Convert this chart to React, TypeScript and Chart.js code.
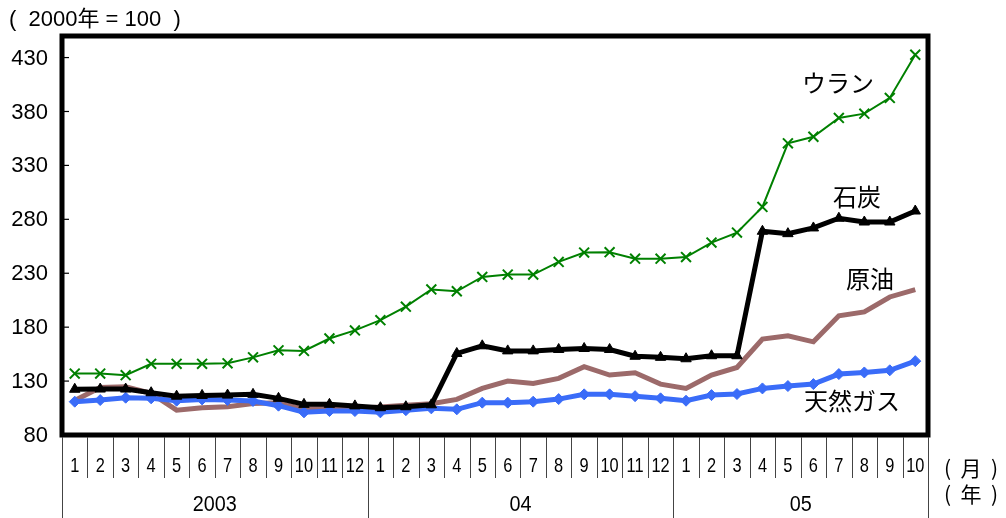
import { useEffect, useRef } from 'react';
import { Chart, registerables } from 'chart.js';

Chart.register(...registerables);

// Monthly index values, 2000 = 100, Jan 2003 – Oct 2005
const months = [
  '1', '2', '3', '4', '5', '6', '7', '8', '9', '10', '11', '12',
  '1', '2', '3', '4', '5', '6', '7', '8', '9', '10', '11', '12',
  '1', '2', '3', '4', '5', '6', '7', '8', '9', '10',
];
const yearLabels = ['2003', '04', '05'];
const monthsPerYear = [12, 12, 10];
const yTicks = [80, 130, 180, 230, 280, 330, 380, 430];

const uranium = [
  137, 137, 135.5, 146, 146, 146, 146.5, 152, 158.5, 158, 169.5, 177,
  186.5, 199, 215, 213.3, 226.6, 228.8, 228.8, 240.5, 249.2, 249.5, 243.5, 243.5,
  245, 258.4, 267.7, 291.5, 350.5, 356.6, 374, 378, 392.6, 432.6,
];
const coal = [
  122.4, 122.6, 122.6, 119.2, 116, 116.7, 117, 117.7, 114, 108.4, 108.4, 107,
  105.3, 106.2, 108, 155.6, 162.7, 158, 158, 159.3, 160.2, 159.3, 153, 152,
  150.7, 153.5, 153.5, 268.9, 266.7, 272, 281, 277.5, 277.5, 287.7,
];
const crude = [
  112, 124, 124.7, 118.6, 103, 105.3, 106.2, 109.3, 110, 104, 104.5, 104.5,
  106, 107.5, 109, 113, 123.2, 130, 127.8, 132.5, 143.3, 135.6, 137.7, 127.2,
  123.2, 135.6, 142.6, 168.9, 172, 166.4, 190.5, 194.2, 208, 214.9,
];
const naturalGas = [
  110.9, 112.4, 114.6, 114, 111.8, 113, 112.4, 111.5, 107.2, 101, 102.2, 102.2,
  101, 103, 104.7, 103.8, 110, 110, 110.9, 113.3, 117.7, 117.7, 116, 114,
  111.8, 117, 118, 123.2, 125.4, 127.2, 136.5, 138, 140, 148.5,
];

const seriesNames = ['ウラン', '石炭', '原油', '天然ガス'];
const unitLabel = '(  2000年 = 100  )';
const monthUnit = '(  月  )';
const yearUnit = '(  年  )';

const SANS = '"Liberation Sans", Arial, "Noto Sans CJK JP", sans-serif';
const JP = '"Noto Sans CJK JP", "Liberation Sans", sans-serif';

// Draws the frame, axis texts, month/year grid below the plot and series names
const decorations = {
  id: 'decorations',
  afterDraw(chart: any) {
    const { ctx, chartArea, scales } = chart;
    const { left, top, right, bottom } = chartArea;
    const x = scales.x;
    const y = scales.y;
    const H = chart.height;
    ctx.save();
    ctx.fillStyle = '#000';
    ctx.strokeStyle = '#000';

    // plot frame
    ctx.lineWidth = 5;
    ctx.strokeRect(left, top, right - left, bottom - top);

    // y ticks (inward) and labels
    ctx.lineWidth = 1.2;
    ctx.font = `22px ${SANS}`;
    ctx.textAlign = 'right';
    ctx.textBaseline = 'middle';
    yTicks.forEach((v) => {
      const py = y.getPixelForValue(v);
      ctx.beginPath();
      ctx.moveTo(left, py);
      ctx.lineTo(left + 7, py);
      ctx.stroke();
      ctx.fillText(String(v), left - 14, py + 1);
    });

    // unit caption
    ctx.textAlign = 'left';
    ctx.font = `22px ${SANS}`;
    ctx.fillText(unitLabel, 9, 20);

    // month separators and year separators
    const half = (x.getPixelForValue(1) - x.getPixelForValue(0)) / 2;
    const yearStarts: number[] = [0];
    monthsPerYear.forEach((n, i) => yearStarts.push(yearStarts[i] + n));
    ctx.strokeStyle = '#444';
    ctx.lineWidth = 1;
    for (let i = 0; i <= months.length; i++) {
      const px = i === months.length
        ? x.getPixelForValue(i - 1) + half
        : x.getPixelForValue(i) - half;
      const isYear = yearStarts.includes(i);
      const xx = Math.round(px) + 0.5;
      ctx.beginPath();
      ctx.moveTo(xx, bottom + 2);
      ctx.lineTo(xx, isYear ? H : bottom + 43);
      ctx.stroke();
    }

    // month labels (condensed)
    ctx.fillStyle = '#000';
    ctx.textAlign = 'center';
    ctx.textBaseline = 'middle';
    ctx.font = `21px ${SANS}`;
    months.forEach((m, i) => {
      const px = x.getPixelForValue(i);
      ctx.save();
      ctx.translate(px, bottom + 31);
      ctx.scale(0.78, 1);
      ctx.fillText(m, 0, 0);
      ctx.restore();
    });

    // year labels
    ctx.font = `22px ${SANS}`;
    yearLabels.forEach((label, i) => {
      const a = x.getPixelForValue(yearStarts[i]);
      const b = x.getPixelForValue(yearStarts[i + 1] - 1);
      ctx.save();
      ctx.translate((a + b) / 2, bottom + 70);
      ctx.scale(0.9, 1);
      ctx.fillText(label, 0, 0);
      ctx.restore();
    });

    // unit labels on the right
    ctx.textAlign = 'left';
    ctx.font = `21px ${JP}`;
    ctx.fillText(monthUnit, 944, bottom + 33);
    ctx.fillText(yearUnit, 944, bottom + 59);

    // series names
    ctx.textAlign = 'center';
    ctx.font = `24px ${JP}`;
    const namePos = [
      [838, 83],
      [857, 197],
      [870, 279],
      [852, 401],
    ];
    seriesNames.forEach((n, i) => ctx.fillText(n, namePos[i][0], namePos[i][1]));

    ctx.restore();
  },
};

export default function App() {
  const canvasRef = useRef<HTMLCanvasElement | null>(null);

  useEffect(() => {
    document.body.style.margin = '0';
    const canvas = canvasRef.current;
    if (!canvas) return;
    const chart = new Chart(canvas, {
      type: 'line',
      data: {
        labels: months.map((m, i) => `${i}-${m}`),
        datasets: [
          {
            label: seriesNames[0],
            data: uranium,
            borderColor: '#008000',
            backgroundColor: '#008000',
            borderWidth: 2,
            pointStyle: 'crossRot',
            pointRadius: 7,
            pointBorderWidth: 2,
            pointBorderColor: '#008000',
          },
          {
            label: seriesNames[1],
            data: coal,
            borderColor: '#000000',
            backgroundColor: '#000000',
            borderWidth: 5,
            pointStyle: 'triangle',
            pointRadius: 6,
            pointBorderWidth: 1,
          },
          {
            label: seriesNames[3],
            data: naturalGas,
            borderColor: '#3a6cf8',
            backgroundColor: '#3a6cf8',
            borderWidth: 5,
            pointStyle: 'rectRot',
            pointRadius: 5.5,
            pointBorderWidth: 1,
          },
          {
            label: seriesNames[2],
            data: crude,
            borderColor: '#9c6a6a',
            backgroundColor: '#9c6a6a',
            borderWidth: 5,
            pointRadius: 0,
          },
        ],
      },
      options: {
        responsive: false,
        animation: false,
        layout: { padding: { left: 62, top: 36, right: 78, bottom: 83 } },
        plugins: {
          legend: { display: false },
          tooltip: { enabled: false },
        },
        scales: {
          x: { type: 'category', display: false, offset: true },
          y: { type: 'linear', display: false, min: 80, max: 450 },
        },
      },
      plugins: [decorations],
    });
    return () => chart.destroy();
  }, []);

  return (
    <div style={{ width: 1006, height: 518, background: '#fff' }}>
      <canvas ref={canvasRef} width={1006} height={518} style={{ display: 'block' }} />
    </div>
  );
}
